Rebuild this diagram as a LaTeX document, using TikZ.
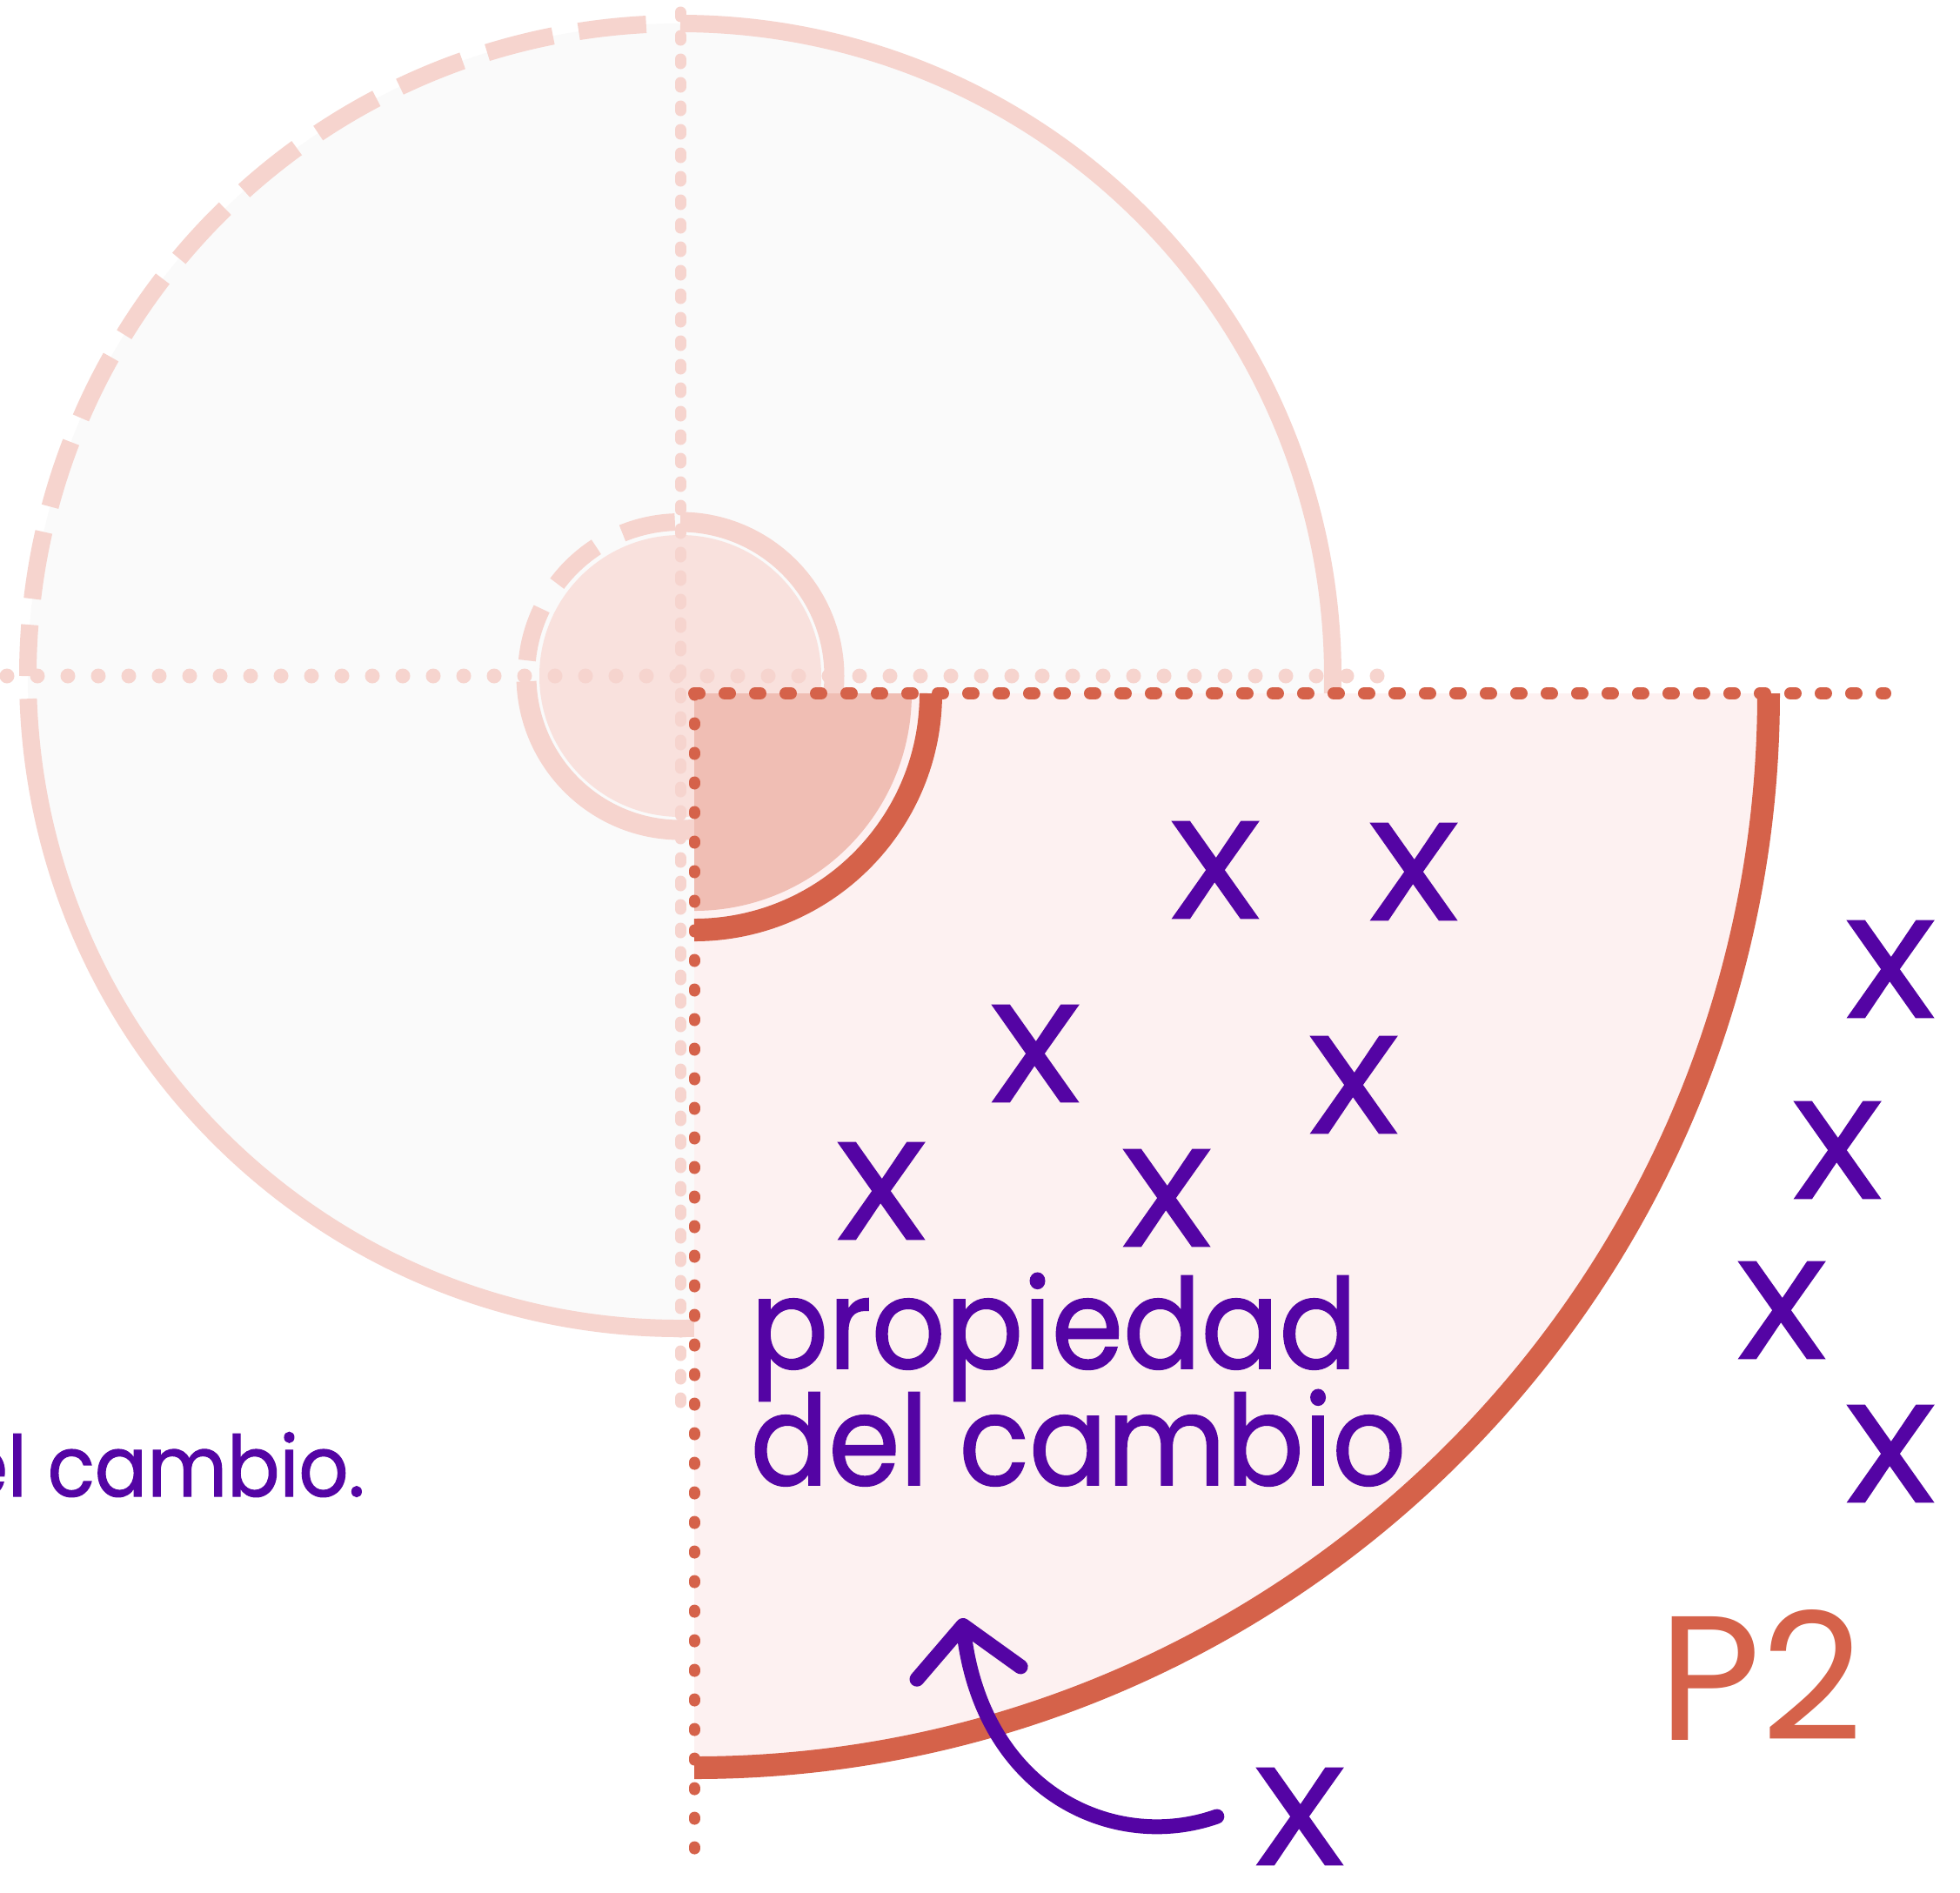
\documentclass[tikz,border=0pt]{standalone}
\usepackage{fontspec}
\setmainfont{Poppins}
\newfontfamily\markfont{Poppins}[FakeBold=1.5, FakeStretch=1.15]
\newfontfamily\labelfont{Poppins}[FakeBold=1.2, FakeStretch=0.92]
\usetikzlibrary{arrows.meta,positioning}

\definecolor{lightline}{RGB}{246,212,206}
\definecolor{discgray}{RGB}{250,250,250}
\definecolor{softpink}{RGB}{249,225,221}
\definecolor{fieldpink}{RGB}{253,241,241}
\definecolor{corepink}{RGB}{240,190,180}
\definecolor{rust}{RGB}{213,98,74}
\definecolor{ink}{RGB}{84,4,164}

\tikzset{
  xsign/.style={text=ink, inner sep=0pt, font=\markfont\fontsize{45}{45}\selectfont},
  lbl/.style={text=ink, inner sep=0pt, font=\labelfont\fontsize{41}{41}\selectfont},
  lblsmall/.style={text=ink, inner sep=0pt, font=\labelfont\fontsize{27.6}{27.6}\selectfont},
  ptag/.style={text=rust, inner sep=0pt, font=\fontsize{58}{58}\selectfont},
  ring/.style={lightline, line width=0.2cm},
  border/.style={rust, line cap=round}
}

\begin{document}
\begin{tikzpicture}
\useasboundingbox (0,0) rectangle (22.53,-21.75);
\fill[white] (0,0) rectangle (22.53,-21.75);

\coordinate (o) at (7.82,-7.77);
\coordinate (k) at (7.98,-7.97);

% the whole circle, faded
\fill[discgray] (o) circle (7.5);
\fill[softpink] (o) circle (1.62);
\draw[ring] (o) ++(90:7.5) arc[start angle=90, end angle=-10, radius=7.5];
\draw[ring] (o) ++(182:7.5) arc[start angle=182, end angle=272, radius=7.5];
\draw[ring, dash pattern=on 0.78cm off 0.3cm] (o) ++(93:7.5) arc[start angle=93, end angle=180, radius=7.5];
\draw[ring, line width=0.23cm] (o) ++(90:1.77) arc[start angle=90, end angle=-178, radius=1.77];
\draw[ring, dash pattern=on 0.62cm off 0.34cm] (o) ++(92:1.77) arc[start angle=92, end angle=177, radius=1.77];
\draw[lightline, line width=0.13cm, line cap=round, dash pattern=on 0.05cm off 0.22cm] (7.82,-0.14) -- (7.82,-16.3);
\draw[lightline, line width=0.17cm, line cap=round, dash pattern=on 0cm off 0.35cm] (0.08,-7.77) -- (16.05,-7.77);

% quarter P2
\fill[fieldpink] (k) -- ++(12.35,0) arc[start angle=0, end angle=-90, radius=12.35] -- cycle;
\fill[corepink] (k) -- ++(2.5,0) arc[start angle=0, end angle=-90, radius=2.5] -- cycle;
\draw[rust, line width=0.26cm] (k) ++(2.72,0) arc[start angle=0, end angle=-90, radius=2.72];
\draw[rust, line width=0.26cm] (k) ++(12.35,0) arc[start angle=0, end angle=-90, radius=12.35];
\draw[border, line width=0.14cm, dash pattern=on 0.06cm off 0.29cm] (k) -- (21.67,-7.97);
\draw[border, line width=0.13cm, dash pattern=on 0.02cm off 0.32cm] (k) -- (7.98,-21.5);

% marks
\foreach \x/\y [count=\i] in {13.97/-10.00, 16.25/-10.02, 11.90/-12.11, 15.56/-12.47, 10.13/-13.69, 13.41/-13.77, 21.73/-11.14, 21.12/-13.22, 20.48/-15.06, 21.73/-16.71}{
  \node[xsign] (x\i) at (\x,\y) {X};
}
\node[xsign] (xout) at (14.94,-20.88) {X};

\node[lbl, anchor=base west] (prop) at (8.62,-15.73) {propiedad};
\node[lbl, anchor=base west] (del) at ([yshift=-1.34cm]prop.base west) {del cambio};
\node[lblsmall, anchor=base east] (rest) at (4.20,-17.20) {el cambio.};
\node[ptag] (p2) at (20.24,-19.25) {P2};

\coordinate (tip) at (11.06,-18.60);
\draw[ink, line width=0.17cm, line cap=round, -{Straight Barb[length=5.5mm, width=12mm, round]}] ([xshift=-0.38cm]xout.west) .. controls (12.80,-21.30) and (11.30,-20.60) .. (tip);
\end{tikzpicture}
\end{document}
